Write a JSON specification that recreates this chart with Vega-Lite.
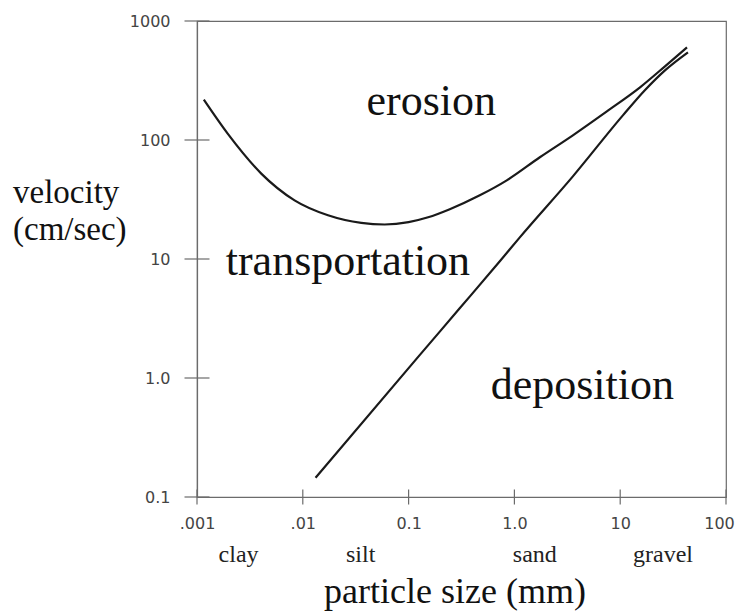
{
  "$schema": "https://vega.github.io/schema/vega-lite/v6.json",
  "width": 529,
  "height": 476,
  "autosize": {"type": "none"},
  "padding": {"left": 197, "top": 21, "right": 13, "bottom": 114},
  "background": "white",
  "config": {
    "view": {"stroke": "#6b6b6b", "strokeWidth": 1.2},
    "axis": {
      "domainColor": "#6b6b6b",
      "domainWidth": 1.2,
      "ticks": false,
      "grid": false,
      "labelFont": "DejaVu Sans",
      "labelFontSize": 16,
      "labelColor": "#444444",
      "titleFont": "Liberation Serif",
      "titleFontWeight": "normal",
      "titleColor": "#111111"
    }
  },
  "datasets": {
    "curves": [
      {"curve": "erosion", "size": 0.00116, "velocity": 218},
      {"curve": "erosion", "size": 0.00195, "velocity": 113},
      {"curve": "erosion", "size": 0.00405, "velocity": 52.2},
      {"curve": "erosion", "size": 0.00836, "velocity": 31.1},
      {"curve": "erosion", "size": 0.0173, "velocity": 23.3},
      {"curve": "erosion", "size": 0.0357, "velocity": 20.1},
      {"curve": "erosion", "size": 0.0594, "velocity": 19.5},
      {"curve": "erosion", "size": 0.1, "velocity": 20.4},
      {"curve": "erosion", "size": 0.153, "velocity": 22.4},
      {"curve": "erosion", "size": 0.245, "velocity": 26.2},
      {"curve": "erosion", "size": 0.471, "velocity": 34.3},
      {"curve": "erosion", "size": 0.847, "velocity": 45.8},
      {"curve": "erosion", "size": 1.74, "velocity": 71.6},
      {"curve": "erosion", "size": 3.57, "velocity": 109.5},
      {"curve": "erosion", "size": 7.48, "velocity": 174},
      {"curve": "erosion", "size": 15.4, "velocity": 277},
      {"curve": "erosion", "size": 26.5, "velocity": 416},
      {"curve": "erosion", "size": 42.8, "velocity": 601},
      {"curve": "deposition", "size": 0.0132, "velocity": 0.145},
      {"curve": "deposition", "size": 0.122, "velocity": 1.49},
      {"curve": "deposition", "size": 0.304, "velocity": 3.85},
      {"curve": "deposition", "size": 0.728, "velocity": 9.57},
      {"curve": "deposition", "size": 1.125, "velocity": 15.2},
      {"curve": "deposition", "size": 3.57, "velocity": 49.5},
      {"curve": "deposition", "size": 10.6, "velocity": 161},
      {"curve": "deposition", "size": 17.1, "velocity": 262},
      {"curve": "deposition", "size": 26.5, "velocity": 385},
      {"curve": "deposition", "size": 43.7, "velocity": 546}
    ],
    "regions": [
      {"label": "erosion", "size": 0.164, "velocity": 161},
      {"label": "transportation", "size": 0.0267, "velocity": 7.3},
      {"label": "deposition", "size": 4.39, "velocity": 0.671}
    ],
    "classes": [
      {"label": "clay", "size": 0.00247, "velocity": 0.0283},
      {"label": "silt", "size": 0.0352, "velocity": 0.0283},
      {"label": "sand", "size": 1.56, "velocity": 0.0283},
      {"label": "gravel", "size": 25.4, "velocity": 0.0283}
    ],
    "yticks": [
      {"size": 0.001, "velocity": 0.1},
      {"size": 0.001, "velocity": 1},
      {"size": 0.001, "velocity": 10},
      {"size": 0.001, "velocity": 100},
      {"size": 0.001, "velocity": 1000}
    ],
    "xticks": [
      {"size": 0.001, "velocity": 0.1},
      {"size": 0.01, "velocity": 0.1},
      {"size": 0.1, "velocity": 0.1},
      {"size": 1, "velocity": 0.1},
      {"size": 10, "velocity": 0.1},
      {"size": 100, "velocity": 0.1}
    ]
  },
  "encoding": {
    "x": {
      "field": "size",
      "type": "quantitative",
      "scale": {"type": "log", "domain": [0.001, 100], "nice": false},
      "axis": {
        "values": [0.001, 0.01, 0.1, 1, 10, 100],
        "labelExpr": "datum.value < 0.005 ? '.001' : datum.value < 0.05 ? '.01' : datum.value < 0.5 ? '0.1' : datum.value < 5 ? '1.0' : datum.value < 50 ? '10' : '100'",
        "labelPadding": 18,
        "labelFlush": false,
        "labelOverlap": false,
        "labelOffset": {"condition": {"test": "datum.value > 50", "value": -7}, "value": 0},
        "title": "particle size (mm)",
        "titleFontSize": 36,
        "titleX": 257.5,
        "titleY": 105,
        "titleAlign": "center",
        "titleBaseline": "alphabetic"
      }
    },
    "y": {
      "field": "velocity",
      "type": "quantitative",
      "scale": {"type": "log", "domain": [0.1, 1000], "nice": false},
      "axis": {
        "values": [0.1, 1, 10, 100, 1000],
        "labelExpr": "datum.value < 0.5 ? '0.1' : datum.value < 5 ? '1.0' : datum.value < 50 ? '10' : datum.value < 500 ? '100' : '1000'",
        "labelPadding": 27,
        "labelFlush": false,
        "labelOverlap": false,
        "title": ["velocity", "(cm/sec)"],
        "titleFontSize": 33,
        "titleAngle": 0,
        "titleAlign": "left",
        "titleBaseline": "alphabetic",
        "titleX": -184.5,
        "titleY": 181,
        "titleLineHeight": 37
      }
    }
  },
  "layer": [
    {
      "data": {"name": "yticks"},
      "mark": {"type": "tick", "orient": "horizontal", "size": 25, "thickness": 1.2, "color": "#6b6b6b", "opacity": 1},
      "encoding": {}
    },
    {
      "data": {"name": "xticks"},
      "mark": {"type": "tick", "orient": "vertical", "size": 15, "thickness": 1.2, "color": "#6b6b6b", "opacity": 1},
      "encoding": {}
    },
    {
      "data": {"name": "curves"},
      "mark": {"type": "line", "interpolate": "monotone", "color": "#1a1a1a", "strokeWidth": 2.2},
      "encoding": {"detail": {"field": "curve"}}
    },
    {
      "data": {"name": "regions"},
      "mark": {"type": "text", "font": "Liberation Serif", "fontSize": 44, "align": "center", "baseline": "alphabetic", "color": "#111111"},
      "encoding": {"text": {"field": "label"}}
    },
    {
      "data": {"name": "classes"},
      "mark": {"type": "text", "font": "Liberation Serif", "fontSize": 24, "align": "center", "baseline": "alphabetic", "color": "#222222"},
      "encoding": {"text": {"field": "label"}}
    }
  ]
}
